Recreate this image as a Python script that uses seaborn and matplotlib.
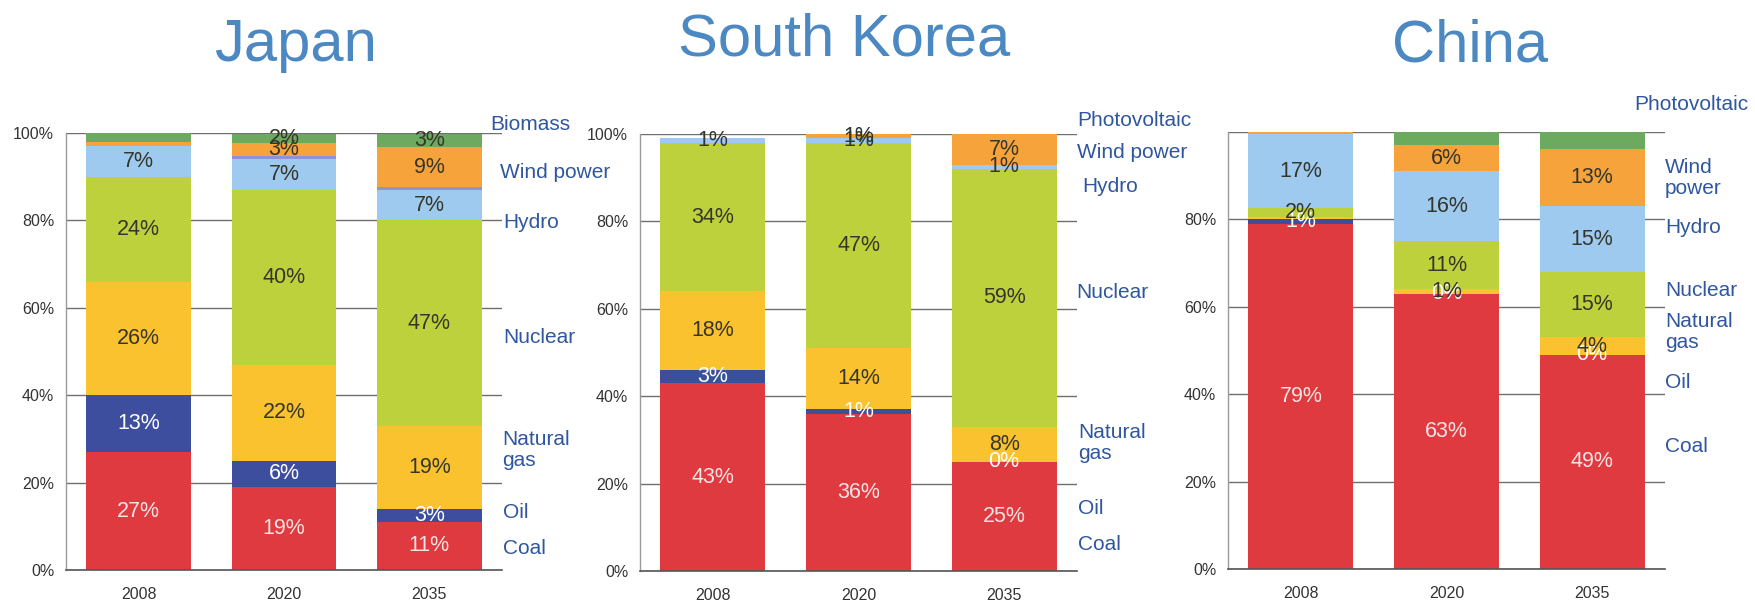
import numpy as np
import pandas as pd
import matplotlib
matplotlib.use("Agg")
import matplotlib.pyplot as plt
import seaborn as sns

sns.set_style("white")
plt.rcParams["font.family"] = ["Liberation Sans", "DejaVu Sans"]

years = ["2008", "2020", "2035"]

# Power generation mix, % of total
# Japan
jp_coal = [27, 19, 11]
jp_oil = [13, 6, 3]
jp_gas = [26, 22, 19]
jp_nuclear = [24, 40, 47]
jp_hydro = [7, 7, 7]
jp_pv = [0, 0.7, 0.7]
jp_wind = [1, 3, 9]
jp_biomass = [2, 2, 3]

# South Korea
kr_coal = [43, 36, 25]
kr_oil = [3, 1, 0]
kr_gas = [18, 14, 8]
kr_nuclear = [34, 47, 59]
kr_hydro = [1, 1, 1]
kr_wind = [0, 1, 7]
kr_pv = [0, 0, 0]

# China
cn_coal = [79, 63, 49]
cn_oil = [1, 0, 0]
cn_gas = [0.5, 1, 4]
cn_nuclear = [2, 11, 15]
cn_hydro = [17, 16, 15]
cn_wind = [0.5, 6, 13]
cn_pv = [0, 3, 4]

# which segments carry a value label (per year)
ALL = [True, True, True]
NONE = [False, False, False]
LATER = [False, True, True]

# colours
C_COAL = "#DE3A3F"
C_OIL = "#3E4E9F"
C_GAS = "#F9C22E"
C_NUC = "#BDD13C"
C_HYDRO = "#9DCAEE"
C_WIND = "#F6A33C"
C_GREEN = "#6CAA60"
C_LAV = "#8E93D6"

TXT_DARK = "#35352A"
TXT_PINK = "#F8E4E4"
TXT_WHITE = "#FFFFFF"
LBL_BLUE = "#2F569F"
TITLE_BLUE = "#4C88C2"

W, H = 1756, 605
fig = plt.figure(figsize=(W / 100, H / 100), dpi=100)


def px_box(l, t, r, b):
    return [l / W, 1 - b / H, (r - l) / W, (b - t) / H]


def fx(x):
    return x / W


def fy(y):
    return 1 - y / H


def stacked(ax, series, show_top_tick=True):
    vals = np.array([s[0] for s in series], dtype=float)
    tops = np.cumsum(vals, axis=0)
    bottoms = tops - vals
    # overlay cumulative bars from the tallest down
    for k in range(len(series) - 1, -1, -1):
        df = pd.DataFrame({"year": years, "share": tops[k]})
        sns.barplot(data=df, x="year", y="share", order=years,
                    color=series[k][1], saturation=1, width=0.72,
                    linewidth=0, edgecolor="none", errorbar=None, ax=ax)
    for k, (v, col, shown, tcol) in enumerate(series):
        for i in range(len(years)):
            if shown[i]:
                ax.text(i, bottoms[k][i] + vals[k][i] / 2, f"{vals[k][i]:g}%",
                        ha="center", va="center", fontsize=15.5, color=tcol,
                        zorder=5)
    ax.set(xlabel="", ylabel="")
    ax.set_xlim(-0.5, 2.5)
    ax.set_ylim(0, 100)
    ticks = [0, 20, 40, 60, 80, 100]
    ax.set_yticks(ticks)
    labels = [f"{t}%" for t in ticks]
    if not show_top_tick:
        labels[-1] = ""
    ax.set_yticklabels(labels)
    ax.set_xticks(range(len(years)))
    ax.set_xticklabels(years)
    ax.set_xticks([0.5, 1.5, 2.5], minor=True)
    ax.tick_params(axis="y", length=0, pad=8.5, labelsize=11.5, labelcolor="#333333")
    ax.tick_params(axis="x", which="major", length=0, pad=12, labelsize=11.5,
                   labelcolor="#333333")
    ax.tick_params(axis="x", which="minor", direction="in", length=5,
                   width=1, color="#666666")
    ax.set_axisbelow(True)
    ax.yaxis.grid(True, color="#6F6F6F", linewidth=1)
    ax.xaxis.grid(False)
    for side in ("top", "right"):
        ax.spines[side].set_visible(False)
    ax.spines["left"].set_color("#9A9A9A")
    ax.spines["left"].set_linewidth(1)
    ax.spines["bottom"].set_color("#555555")
    ax.spines["bottom"].set_linewidth(1.2)


ax_jp = fig.add_axes(px_box(66, 133, 502, 570))
ax_kr = fig.add_axes(px_box(640, 134, 1077, 571))
ax_cn = fig.add_axes(px_box(1228, 132, 1665, 569))

stacked(ax_jp, [
    (jp_coal, C_COAL, ALL, TXT_PINK),
    (jp_oil, C_OIL, ALL, TXT_WHITE),
    (jp_gas, C_GAS, ALL, TXT_DARK),
    (jp_nuclear, C_NUC, ALL, TXT_DARK),
    (jp_hydro, C_HYDRO, ALL, TXT_DARK),
    (jp_pv, C_LAV, NONE, TXT_DARK),
    (jp_wind, C_WIND, LATER, TXT_DARK),
    (jp_biomass, C_GREEN, LATER, TXT_DARK),
])

stacked(ax_kr, [
    (kr_coal, C_COAL, ALL, TXT_PINK),
    (kr_oil, C_OIL, ALL, TXT_WHITE),
    (kr_gas, C_GAS, ALL, TXT_DARK),
    (kr_nuclear, C_NUC, ALL, TXT_DARK),
    (kr_hydro, C_HYDRO, ALL, TXT_DARK),
    (kr_wind, C_WIND, LATER, TXT_DARK),
    (kr_pv, C_GREEN, NONE, TXT_DARK),
])

stacked(ax_cn, [
    (cn_coal, C_COAL, ALL, TXT_PINK),
    (cn_oil, C_OIL, ALL, TXT_WHITE),
    (cn_gas, C_GAS, LATER, TXT_DARK),
    (cn_nuclear, C_NUC, ALL, TXT_DARK),
    (cn_hydro, C_HYDRO, ALL, TXT_DARK),
    (cn_wind, C_WIND, LATER, TXT_DARK),
    (cn_pv, C_GREEN, NONE, TXT_DARK),
], show_top_tick=False)

# country titles
for name, cx in (("Japan", 296), ("South Korea", 844), ("China", 1470)):
    base = 55 if name == "South Korea" else 61
    fig.text(fx(cx), fy(base), name, ha="center", va="baseline",
             fontsize=43, color=TITLE_BLUE)

# series names beside each panel
side_labels = [
    ("Biomass", 490, 125), ("Wind power", 500, 173), ("Hydro", 503, 222),
    ("Nuclear", 503, 337), ("Natural\ngas", 502, 450), ("Oil", 503, 513),
    ("Coal", 503, 548),
    ("Photovoltaic", 1077, 120), ("Wind power", 1077, 152), ("Hydro", 1082, 187),
    ("Nuclear", 1076, 293), ("Natural\ngas", 1078, 443), ("Oil", 1078, 509),
    ("Coal", 1078, 544),
    ("Photovoltaic", 1634, 105), ("Wind\npower", 1665, 178), ("Hydro", 1665, 228),
    ("Nuclear", 1665, 290), ("Natural\ngas", 1665, 332), ("Oil", 1665, 383),
    ("Coal", 1665, 447),
]
for text, x, y in side_labels:
    fig.text(fx(x), fy(y), text, ha="left", va="center", fontsize=15,
             color=LBL_BLUE, linespacing=1.15)

fig.savefig("out.png", dpi=100, facecolor="white")
